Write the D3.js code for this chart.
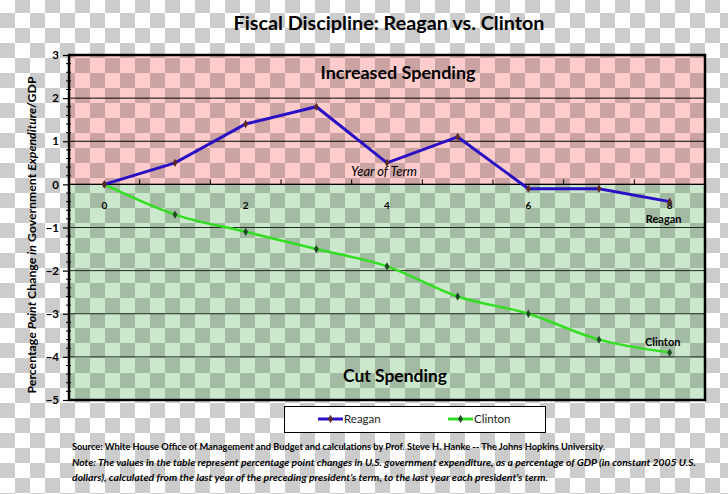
<!DOCTYPE html>
<html>
<head>
<meta charset="utf-8">
<script src="https://cdn.jsdelivr.net/npm/d3@7"></script>
<style>
  body { margin: 0; background: #fff; }
  text { font-family: Lato, "Open Sans", sans-serif; }
</style>
</head>
<body>
<div id="chart"></div>
<script>
// data
const years = [0, 1, 2, 3, 4, 5, 6, 7, 8];
const reagan = [0, 0.5, 1.4, 1.8, 0.5, 1.1, -0.1, -0.1, -0.4];
const clinton = [0, -0.7, -1.1, -1.5, -1.9, -2.6, -3.0, -3.6, -3.9];
const yTicks = [-5, -4, -3, -2, -1, 0, 1, 2, 3];
const xLabels = [0, 2, 4, 6, 8];
const xTickMarks = [0.5, 1.5, 2.5, 3.5, 4.5, 5.5, 6.5, 7.5];

const W = 728, H = 494;

const svg = d3.select("#chart")
  .append("svg")
    .attr("width", W)
    .attr("height", H);

// scales: plot frame spans -0.5..8.5 years and -5..3 points
const x = d3.scaleLinear().domain([-0.5, 8.5]).range([69, 705]);
const y = d3.scaleLinear().domain([-5, 3]).range([400, 55]);

// checker pattern (the transparency grid of the original png)
const defs = svg.append("defs");
const pat = defs.append("pattern")
    .attr("id", "checker")
    .attr("patternUnits", "userSpaceOnUse")
    .attr("width", 30).attr("height", 30)
    .attr("y", -2);
pat.append("rect").attr("x", 15).attr("y", 0).attr("width", 15).attr("height", 15).attr("fill", "#000").attr("fill-opacity", 0.2);
pat.append("rect").attr("x", 0).attr("y", 15).attr("width", 15).attr("height", 15).attr("fill", "#000").attr("fill-opacity", 0.2);

svg.append("rect").attr("width", W).attr("height", H).attr("fill", "#fff");

// plot backgrounds
svg.append("rect")
    .attr("x", x(-0.5)).attr("y", y(3))
    .attr("width", x(8.5) - x(-0.5)).attr("height", y(0) - y(3))
    .attr("fill", "#ffcccc");
svg.append("rect")
    .attr("x", x(-0.5)).attr("y", y(0))
    .attr("width", x(8.5) - x(-0.5)).attr("height", y(-5) - y(0))
    .attr("fill", "#cce8cc");

svg.append("rect").attr("width", W).attr("height", H).attr("fill", "url(#checker)");

// grid lines
svg.append("g")
  .selectAll("line")
  .data(yTicks.filter(d => d > -5 && d < 3))
  .join("line")
    .attr("x1", x(-0.5)).attr("x2", x(8.5))
    .attr("y1", d => y(d)).attr("y2", d => y(d))
    .attr("stroke", d => d < 0 ? "#1c2a1c" : "#000")
    .attr("stroke-width", 1);

// frame
svg.append("rect")
    .attr("x", x(-0.5)).attr("y", y(3))
    .attr("width", x(8.5) - x(-0.5)).attr("height", y(-5) - y(3))
    .attr("fill", "none").attr("stroke", "#000").attr("stroke-width", 2.5);

// y axis
const yAxis = svg.append("g")
    .attr("transform", `translate(${x(-0.5)},0)`)
    .call(d3.axisLeft(y).tickValues(yTicks).tickSize(6).tickSizeOuter(0).tickFormat(d3.format("d")));
yAxis.select(".domain").remove();
yAxis.selectAll("text")
    .attr("font-family", "Lato, sans-serif")
    .attr("font-weight", "bold")
    .attr("font-size", 11.5)
    .attr("fill", "#000")
    .attr("x", -10);
yAxis.selectAll("line").attr("stroke-width", 1.2);

const minor = d3.range(-5, 3.001, 0.2).map(d => +d.toFixed(1)).filter(d => !yTicks.includes(d));
svg.append("g")
  .selectAll("line")
  .data(minor)
  .join("line")
    .attr("x1", x(-0.5) - 3).attr("x2", x(-0.5) + 2)
    .attr("y1", d => y(d)).attr("y2", d => y(d))
    .attr("stroke", "#000").attr("stroke-width", 1);

// x axis at zero
svg.append("line")
    .attr("x1", x(-0.5)).attr("x2", x(8.5))
    .attr("y1", y(0)).attr("y2", y(0))
    .attr("stroke", "#000").attr("stroke-width", 1.2);
svg.append("g")
  .selectAll("line")
  .data(xTickMarks)
  .join("line")
    .attr("x1", d => x(d)).attr("x2", d => x(d))
    .attr("y1", y(0)).attr("y2", y(0) - 5)
    .attr("stroke", "#000").attr("stroke-width", 1);
svg.append("g")
  .selectAll("text")
  .data(xLabels)
  .join("text")
    .attr("x", d => x(d)).attr("y", y(0) + 25)
    .attr("text-anchor", "middle")
    .attr("font-size", 10).attr("font-weight", "bold")
    .text(d => d);

svg.append("text")
    .attr("x", x(4) - 3).attr("y", y(0) - 8)
    .attr("text-anchor", "middle")
    .attr("font-size", 12.5).attr("font-style", "italic")
    .attr("textLength", 66).attr("lengthAdjust", "spacingAndGlyphs")
    .text("Year of Term");

// region labels
svg.append("text")
    .attr("x", 398).attr("y", 79)
    .attr("text-anchor", "middle")
    .attr("font-size", 16.5).attr("font-weight", "bold")
    .attr("textLength", 155).attr("lengthAdjust", "spacingAndGlyphs")
    .text("Increased Spending");
svg.append("text")
    .attr("x", 395).attr("y", 382)
    .attr("text-anchor", "middle")
    .attr("font-size", 16.5).attr("font-weight", "bold")
    .attr("textLength", 104).attr("lengthAdjust", "spacingAndGlyphs")
    .text("Cut Spending");

// lines
const lineR = d3.line().x((d, i) => x(years[i])).y(d => y(d));
const lineC = d3.line().x((d, i) => x(years[i])).y(d => y(d)).curve(d3.curveMonotoneX);

svg.append("path")
    .datum(clinton)
    .attr("d", lineC)
    .attr("fill", "none").attr("stroke", "#33dd22").attr("stroke-width", 2.5);
svg.append("path")
    .datum(reagan)
    .attr("d", lineR)
    .attr("fill", "none").attr("stroke", "#2a10c4").attr("stroke-width", 3);

const diamond = d3.symbol().type(d3.symbolDiamond).size(20);
svg.append("g")
  .selectAll("path")
  .data(clinton)
  .join("path")
    .attr("d", diamond)
    .attr("transform", (d, i) => `translate(${x(years[i])},${y(d)})`)
    .attr("fill", "#1f4a22");
svg.append("g")
  .selectAll("path")
  .data(reagan)
  .join("path")
    .attr("d", diamond)
    .attr("transform", (d, i) => `translate(${x(years[i])},${y(d)})`)
    .attr("fill", "#5a2a24");

// series end labels
svg.append("text")
    .attr("x", x(8) - 6).attr("y", 223)
    .attr("text-anchor", "middle")
    .attr("font-size", 11).attr("font-weight", "bold")
    .text("Reagan");
svg.append("text")
    .attr("x", x(8) - 7).attr("y", 346)
    .attr("text-anchor", "middle")
    .attr("font-size", 11).attr("font-weight", "bold")
    .text("Clinton");

// title
svg.append("text")
    .attr("x", 389).attr("y", 30)
    .attr("text-anchor", "middle")
    .attr("font-size", 18).attr("font-weight", "bold")
    .attr("textLength", 311).attr("lengthAdjust", "spacingAndGlyphs")
    .text("Fiscal Discipline: Reagan vs. Clinton");

// y axis title
const yt = svg.append("text")
    .attr("transform", "translate(36,235) rotate(-90)")
    .attr("text-anchor", "middle")
    .attr("font-size", 11.5).attr("font-weight", "bold")
    .attr("textLength", 317).attr("lengthAdjust", "spacingAndGlyphs");
[["Percentage ", "normal"], ["Point", "italic"], [" Change ", "normal"], ["in", "italic"],
 [" Government ", "normal"], ["Expenditure", "italic"], ["/GDP", "normal"]]
  .forEach(([t, s]) => yt.append("tspan").attr("font-style", s).text(t));

// legend
const lg = svg.append("g");
lg.append("rect")
    .attr("x", 284.5).attr("y", 406.5).attr("width", 261).attr("height", 26)
    .attr("fill", "#fff").attr("stroke", "#000").attr("stroke-width", 1);
const legendItems = [
  {name: "Reagan", color: "#2a10c4", mark: "#5a2a24", x0: 318},
  {name: "Clinton", color: "#33dd22", mark: "#1f4a22", x0: 448}
];
legendItems.forEach(d => {
  lg.append("line")
      .attr("x1", d.x0).attr("x2", d.x0 + 25)
      .attr("y1", 419).attr("y2", 419)
      .attr("stroke", d.color).attr("stroke-width", 3);
  lg.append("path")
      .attr("d", diamond)
      .attr("transform", `translate(${d.x0 + 12.5},419)`)
      .attr("fill", d.mark);
  lg.append("text")
      .attr("x", d.x0 + 26).attr("y", 423)
      .attr("font-size", 11.5)
      .attr("fill", "#222")
      .text(d.name);
});

// source and note
svg.append("text")
    .attr("x", 72).attr("y", 450)
    .attr("font-size", 8.5).attr("font-weight", "bold")
    .attr("textLength", 533).attr("lengthAdjust", "spacingAndGlyphs")
    .text("Source: White House Office of Management and Budget and calculations by Prof. Steve H. Hanke -- The Johns Hopkins University.");
svg.append("text")
    .attr("x", 72).attr("y", 466)
    .attr("font-size", 8.5).attr("font-weight", "bold").attr("font-style", "italic")
    .attr("textLength", 624).attr("lengthAdjust", "spacingAndGlyphs")
    .text("Note: The values in the table represent percentage point changes in U.S. government expenditure, as a percentage of GDP (in constant 2005 U.S.");
svg.append("text")
    .attr("x", 72).attr("y", 481)
    .attr("font-size", 8.5).attr("font-weight", "bold").attr("font-style", "italic")
    .attr("textLength", 476).attr("lengthAdjust", "spacingAndGlyphs")
    .text("dollars), calculated from the last year of the preceding president's term, to the last year each president's term.");
</script>
</body>
</html>
